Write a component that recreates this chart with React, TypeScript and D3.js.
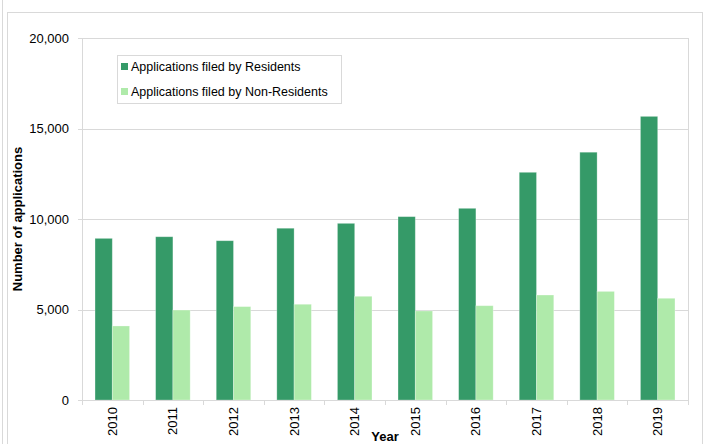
import React from "react";
import * as d3 from "d3";

const years = ["2010", "2011", "2012", "2013", "2014", "2015", "2016", "2017", "2018", "2019"];
const residents = [8930, 9020, 8800, 9490, 9760, 10130, 10590, 12580, 13690, 15670];
const nonResidents = [4090, 4970, 5160, 5290, 5730, 4920, 5210, 5800, 6000, 5620];
const seriesNames = ["Applications filed by Residents", "Applications filed by Non-Residents"];
const seriesColors = ["#359a68", "#afeaaa"];
const yTicks = [0, 5000, 10000, 15000, 20000];

const W = 705;
const H = 444;
const plot = { left: 82, right: 688, top: 38, bottom: 400 };
const font = "Liberation Sans, Arial, sans-serif";

export default function App() {
  const x = d3.scaleBand<string>().domain(years).range([plot.left, plot.right]).padding(0);
  const bw = x.bandwidth();
  const x1 = d3
    .scaleBand<string>()
    .domain(seriesNames)
    .range([bw * 0.215, bw * 0.785])
    .padding(0);
  const y = d3.scaleLinear().domain([0, 20000]).range([plot.bottom, plot.top]);
  const fmt = d3.format(",");
  const data = [residents, nonResidents];

  return (
    <svg
      width={W}
      height={H}
      style={{ position: "absolute", left: 0, top: 0, background: "#fff" }}
      fontFamily={font}
    >
      <rect x={0} y={0} width={W} height={H} fill="#fff" />
      {/* outer frames */}
      <line x1={2.5} x2={2.5} y1={0} y2={H} stroke="#d9d9d9" />
      <rect x={7.5} y={12.5} width={695} height={H} fill="none" stroke="#d9d9d9" />

      {/* gridlines */}
      {yTicks.map((t) => (
        <line
          key={"g" + t}
          x1={plot.left}
          x2={plot.right}
          y1={Math.round(y(t)) + 0.5}
          y2={Math.round(y(t)) + 0.5}
          stroke="#d9d9d9"
        />
      ))}
      {/* plot border */}
      <line x1={plot.left + 0.5} x2={plot.left + 0.5} y1={plot.top} y2={plot.bottom} stroke="#d9d9d9" />
      <line x1={plot.right + 0.5} x2={plot.right + 0.5} y1={plot.top} y2={plot.bottom} stroke="#d9d9d9" />

      {/* y ticks and labels */}
      {yTicks.map((t) => (
        <g key={"yt" + t}>
          <line
            x1={plot.left - 4}
            x2={plot.left}
            y1={Math.round(y(t)) + 0.5}
            y2={Math.round(y(t)) + 0.5}
            stroke="#d9d9d9"
          />
          <text x={69} y={y(t)} dy="0.35em" textAnchor="end" fontSize={13} fill="#000">
            {fmt(t)}
          </text>
        </g>
      ))}

      {/* bars */}
      {data.map((vals, si) =>
        years.map((yr, i) => {
          const bx = (x(yr) as number) + (x1(seriesNames[si]) as number);
          return (
            <rect
              key={si + "-" + yr}
              x={bx}
              y={y(vals[i])}
              width={x1.bandwidth()}
              height={y(0) - y(vals[i])}
              fill={seriesColors[si]}
              stroke="#ffffff"
              strokeOpacity={0.35}
              strokeWidth={0.8}
            />
          );
        })
      )}

      {/* x axis */}
      <line x1={plot.left} x2={plot.right + 1} y1={plot.bottom + 0.5} y2={plot.bottom + 0.5} stroke="#d9d9d9" />
      {[...years.map((yr) => x(yr) as number), plot.right].map((px, i) => (
        <line
          key={"xt" + i}
          x1={Math.round(px) + 0.5}
          x2={Math.round(px) + 0.5}
          y1={plot.bottom}
          y2={plot.bottom + 5}
          stroke="#d9d9d9"
        />
      ))}
      {years.map((yr) => {
        const cx = (x(yr) as number) + bw / 2;
        const ty = 407;
        return (
          <text
            key={"xl" + yr}
            transform={`translate(${cx},${ty}) rotate(-90)`}
            textAnchor="end"
            dy="0.35em"
            fontSize={13}
            fill="#000"
          >
            {yr}
          </text>
        );
      })}

      {/* axis titles */}
      <text
        transform={`translate(22,${(plot.top + plot.bottom) / 2}) rotate(-90)`}
        textAnchor="middle"
        fontSize={13}
        fontWeight="bold"
        fill="#000"
      >
        Number of applications
      </text>
      <text x={(plot.left + plot.right) / 2} y={441} textAnchor="middle" fontSize={13} fontWeight="bold" fill="#000">
        Year
      </text>

      {/* legend */}
      <rect x={117.5} y={55.5} width={224} height={48} fill="#fff" stroke="#d9d9d9" />
      {seriesNames.map((name, i) => (
        <g key={"lg" + i}>
          <rect x={121} y={63 + i * 25} width={7} height={7} fill={seriesColors[i]} />
          <text x={131} y={67 + i * 25} dy="0.35em" fontSize={12.5} fill="#000">
            {name}
          </text>
        </g>
      ))}
    </svg>
  );
}
